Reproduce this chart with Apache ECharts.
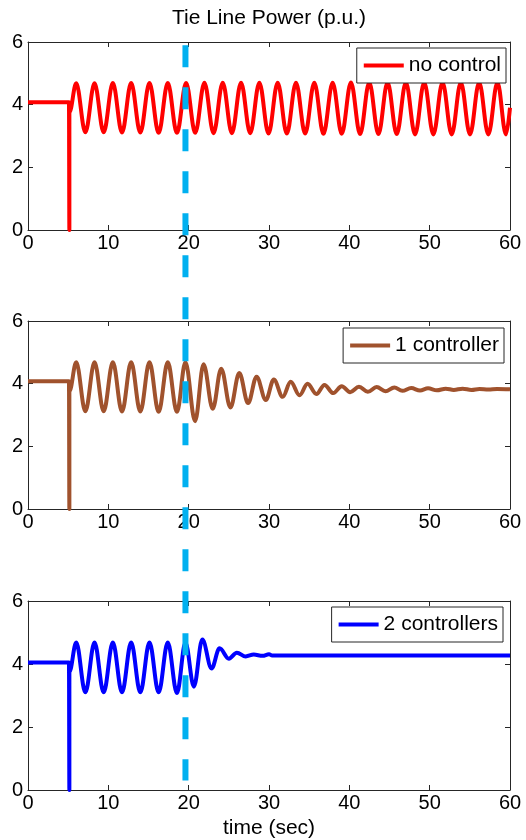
<!DOCTYPE html>
<html>
<head>
<meta charset="utf-8">
<title>Tie Line Power</title>
<script src="https://cdn.jsdelivr.net/npm/echarts@6.0.0/dist/echarts.min.js"></script>
<style>
html, body { margin: 0; padding: 0; background: #fff; }
#main { width: 526px; height: 840px; }
</style>
</head>
<body>
<div id="main"></div>
<script>
// axes
var xMin = 0, xMax = 60, xStep = 10;
var yMin = 0, yMax = 6, yStep = 2;

// no control : sustained oscillation after the fault at t=5 s
var noCtrlT = [0, 5.1, 5.15, 5.15, 5.15,
	6.0, 7.14, 8.28, 9.42, 10.56, 11.7, 12.84, 13.98, 15.12, 16.26, 17.4, 18.54,
	19.68, 20.82, 21.96, 23.1, 24.24, 25.38, 26.52, 27.66, 28.8, 29.94, 31.08, 32.22,
	33.36, 34.5, 35.64, 36.78, 37.92, 39.06, 40.2, 41.34, 42.48, 43.62, 44.76, 45.9,
	47.04, 48.18, 49.32, 50.46, 51.6, 52.74, 53.88, 55.02, 56.16, 57.3, 58.44, 59.5, 60];
var noCtrlV = [4.08, 4.08, 4.08, 0, 3.75,
	4.68, 3.12, 4.68, 3.12, 4.69, 3.11, 4.69, 3.11, 4.69, 3.1, 4.69, 3.1,
	4.69, 3.1, 4.7, 3.09, 4.7, 3.09, 4.7, 3.09, 4.7, 3.08, 4.7, 3.08,
	4.7, 3.08, 4.7, 3.07, 4.7, 3.07, 4.71, 3.06, 4.71, 3.06, 4.71, 3.06,
	4.71, 3.05, 4.71, 3.05, 4.71, 3.05, 4.71, 3.05, 4.71, 3.05, 4.71, 3.05, 3.9];

// 1 controller : slowly damped
var oneCtrlT = [0, 5.1, 5.15, 5.15, 5.15,
	6.0, 7.14, 8.28, 9.42, 10.56, 11.7, 12.84, 13.98, 15.12, 16.26, 17.4, 18.54,
	19.6, 20.8, 21.85, 23.0, 24.05, 25.2, 26.3, 27.4, 28.45, 29.6, 30.6, 31.7,
	32.7, 33.8, 34.8, 35.9, 36.9, 38.0, 39.05, 40.1, 41.2, 42.3, 43.4, 44.5,
	45.6, 46.6, 47.7, 48.8, 49.8, 50.9, 52.0, 53.0, 54.1, 55.2, 56.2, 57.3, 58.4, 60];
var oneCtrlV = [4.08, 4.08, 4.08, 0, 3.75,
	4.68, 3.12, 4.68, 3.12, 4.68, 3.11, 4.68, 3.11, 4.68, 3.1, 4.68, 3.1,
	4.68, 2.8, 4.62, 3.2, 4.48, 3.24, 4.34, 3.38, 4.22, 3.48, 4.13, 3.58,
	4.06, 3.63, 4.0, 3.67, 3.96, 3.7, 3.92, 3.73, 3.9, 3.74, 3.89, 3.76,
	3.88, 3.77, 3.86, 3.78, 3.85, 3.79, 3.84, 3.8, 3.84, 3.8, 3.83, 3.81, 3.83, 3.82];

// 2 controllers : damped within ~10 s
var twoCtrlT = [0, 5.1, 5.15, 5.15, 5.15,
	6.0, 7.14, 8.28, 9.42, 10.56, 11.7, 12.84, 13.98, 15.12, 16.26, 17.4, 18.54,
	19.6, 20.65, 21.7, 22.85, 23.85, 25.0, 26.0, 27.1, 28.1, 29.2, 30.0, 30.4, 60];
var twoCtrlV = [4.05, 4.05, 4.05, 0, 3.75,
	4.68, 3.1, 4.68, 3.1, 4.68, 3.1, 4.68, 3.1, 4.68, 3.1, 4.68, 3.08,
	4.68, 3.28, 4.78, 3.86, 4.5, 4.17, 4.36, 4.24, 4.3, 4.26, 4.31, 4.27, 4.27];

var names = ['no control', '1 controller', '2 controllers'];
var colors = ['#ff0000', '#a0522d', '#0000ff'];

// dashed marker (time, top value in plot 1, bottom value in plot 3)
var markT = 19.6, markTopV = 5.9, markBotV = 0.3;

function pairs(t, v) {
	return t.map(function (x, i) { return [x, v[i]]; });
}

var seriesData = [pairs(noCtrlT, noCtrlV), pairs(oneCtrlT, oneCtrlV), pairs(twoCtrlT, twoCtrlV)];

var grids = [
	{ left: 28, width: 482, top: 42, height: 188 },
	{ left: 28, width: 482, top: 321, height: 188 },
	{ left: 28, width: 482, top: 601, height: 189 }
];
var legendPos = [
	{ right: 20, top: 48 },
	{ right: 22, top: 328 },
	{ right: 23, top: 607 }
];

var font = 'Liberation Sans, Arial, sans-serif';
var boxColor = '#262626';

var xAxes = [], yAxes = [], series = [], legends = [];
for (var i = 0; i < 3; i++) {
	var lineStyle = { color: boxColor, width: 1 };
	// bottom / top
	xAxes.push({
		gridIndex: i, type: 'value', min: xMin, max: xMax, interval: xStep, position: 'bottom',
		axisLine: { show: true, onZero: false, lineStyle: lineStyle },
		axisTick: { show: true, inside: true, length: 5, lineStyle: lineStyle },
		axisLabel: { show: true, color: '#000', fontSize: 20, fontFamily: font, margin: 3 },
		splitLine: { show: false }
	});
	xAxes.push({
		gridIndex: i, type: 'value', min: xMin, max: xMax, interval: xStep, position: 'top',
		axisLine: { show: true, onZero: false, lineStyle: lineStyle },
		axisTick: { show: true, inside: true, length: 5, lineStyle: lineStyle },
		axisLabel: { show: false },
		splitLine: { show: false }
	});
	// left / right
	yAxes.push({
		gridIndex: i, type: 'value', min: yMin, max: yMax, interval: yStep, position: 'left',
		axisLine: { show: true, onZero: false, lineStyle: lineStyle },
		axisTick: { show: true, inside: true, length: 5, lineStyle: lineStyle },
		axisLabel: { show: true, color: '#000', fontSize: 20, fontFamily: font, margin: 5 },
		splitLine: { show: false }
	});
	yAxes.push({
		gridIndex: i, type: 'value', min: yMin, max: yMax, interval: yStep, position: 'right',
		axisLine: { show: true, onZero: false, lineStyle: lineStyle },
		axisTick: { show: true, inside: true, length: 5, lineStyle: lineStyle },
		axisLabel: { show: false },
		splitLine: { show: false }
	});
	series.push({
		name: names[i],
		type: 'line',
		xAxisIndex: 2 * i,
		yAxisIndex: 2 * i,
		data: seriesData[i],
		showSymbol: false,
		symbol: 'none',
		smooth: 0.36,
		smoothMonotone: 'x',
		clip: true,
		color: colors[i],
		lineStyle: { color: colors[i], width: 4, join: 'round' },
		z: 2
	});
	legends.push({
		data: [names[i]],
		right: legendPos[i].right,
		top: legendPos[i].top,
		orient: 'horizontal',
		icon: 'rect',
		itemWidth: 40,
		itemHeight: 4,
		selectedMode: false,
		backgroundColor: '#fff',
		borderColor: boxColor,
		borderWidth: 1,
		borderRadius: 0,
		padding: [7, 5, 7, 7],
		textStyle: { color: '#000', fontSize: 21, fontFamily: font, lineHeight: 20 }
	});
}

var chart = echarts.init(document.getElementById('main'), null, { renderer: 'canvas' });
var option = {
	animation: false,
	backgroundColor: '#fff',
	grid: grids,
	xAxis: xAxes,
	yAxis: yAxes,
	legend: legends,
	series: series
};
chart.setOption(option);

// dashed marker through all three panels, positioned via the axes
var pTop = chart.convertToPixel({ seriesIndex: 0 }, [markT, markTopV]);
var pBot = chart.convertToPixel({ seriesIndex: 2 }, [markT, markBotV]);
var midX = grids[0].left + grids[0].width / 2;

chart.setOption({
	graphic: [
		{
			type: 'text', z: 10,
			style: {
				text: 'Tie Line Power (p.u.)', x: midX, y: 18,
				fill: '#000', font: '21px ' + font, textAlign: 'center', textVerticalAlign: 'middle'
			}
		},
		{
			type: 'text', z: 10,
			style: {
				text: 'time (sec)', x: midX, y: 828,
				fill: '#000', font: '21px ' + font, textAlign: 'center', textVerticalAlign: 'middle'
			}
		},
		{
			type: 'line', z: 100,
			shape: { x1: pTop[0], y1: pTop[1], x2: pBot[0], y2: pBot[1] },
			style: { stroke: '#00b0f0', lineWidth: 6, lineDash: [22, 20] }
		}
	]
});
</script>
</body>
</html>
